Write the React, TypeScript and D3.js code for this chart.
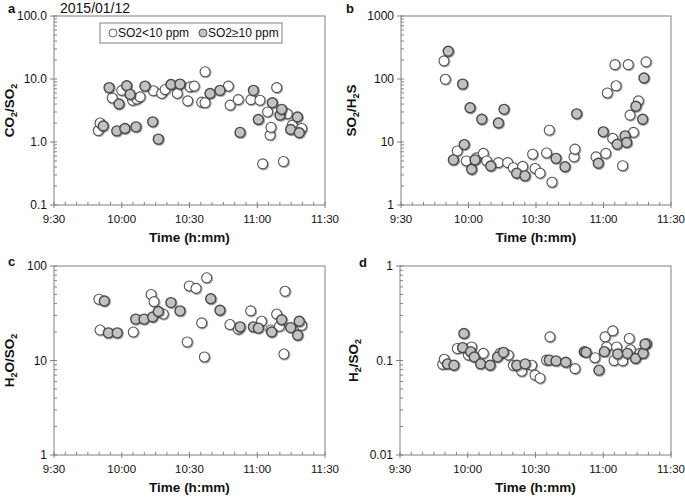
import React, { useRef, useEffect } from 'react';
import * as d3 from 'd3';

// times are minutes after 9:30
const aOpenT = [19.6, 20.4, 25.8, 30, 34.8, 36.7, 38.1, 44, 47.7, 49.2, 54.6, 59.2, 60.2, 62.1, 65.4, 66.9, 66.9, 77.2, 78, 81.6, 87.2, 91.2, 92.4, 94.6, 95.7, 96.1, 98.6, 101.6, 103.3, 105.5, 109.7];
const aOpenV = [1.52, 2.0, 5.0, 6.6, 4.6, 4.8, 5.2, 6.5, 5.9, 6.8, 5.9, 4.5, 7.5, 7.7, 4.3, 4.2, 13, 7.7, 3.85, 4.7, 4.7, 4.6, 0.45, 3.0, 1.29, 1.71, 7.3, 0.49, 2.8, 1.85, 1.64];
const aFillT = [21.8, 24.4, 27.8, 28.8, 31.4, 32.2, 33.7, 36.3, 40.3, 43.7, 46.2, 51.8, 55.8, 69.1, 73.5, 82.4, 88.3, 90.5, 96.7, 100.1, 100.8, 104.8, 107.8, 108.6];
const aFillV = [1.79, 7.3, 1.5, 4.0, 1.64, 7.8, 5.7, 1.74, 7.7, 2.09, 1.11, 8.2, 8.3, 5.9, 6.6, 1.42, 6.6, 2.28, 4.2, 2.67, 3.3, 1.58, 2.5, 1.4];

const bOpenT = [19.1, 19.7, 25, 29, 33.5, 36.6, 38.1, 43.3, 47.4, 49.9, 54.1, 58.5, 59.6, 61.8, 64.7, 65.9, 67.1, 76.9, 77.3, 86.7, 91, 91.7, 94.1, 95.1, 95.6, 98.5, 101, 101.8, 103.3, 105.5, 108.9];
const bOpenV = [194, 99, 7.2, 5.0, 5.6, 6.6, 5.0, 4.7, 4.7, 3.9, 4.1, 6.4, 3.8, 3.2, 6.7, 15.4, 2.3, 5.8, 7.7, 5.8, 6.6, 60, 11.4, 169, 78, 4.2, 169, 26.7, 14.2, 45, 187];
const bFillT = [21, 23.3, 27.4, 28.1, 30.7, 31.4, 32.9, 35.9, 39.9, 43.3, 45.8, 51.4, 55.1, 68.9, 72.9, 78.1, 87.7, 89.9, 96.1, 99.6, 100.3, 104.4, 107.4, 108];
const bFillV = [275, 5.2, 83, 9.1, 35, 3.7, 5.2, 23, 4.15, 20, 33, 3.2, 2.9, 5.5, 4.05, 28, 4.6, 14.5, 9.2, 12.5, 9.8, 37, 23, 104];

const cOpenT = [19.9, 20.4, 35.1, 43, 44.3, 48.4, 59, 59.9, 62.9, 65.4, 66.6, 67.6, 77.9, 81.6, 87.1, 91.9, 96, 98.6, 99.8, 101.8, 102.3, 109.7];
const cOpenV = [44.5, 21, 20, 50, 42, 31, 15.7, 61.5, 58, 25, 10.9, 75, 24, 21.5, 33.5, 26, 21, 31, 23, 11.7, 54, 23.6];
const cFillT = [22.3, 24.1, 28, 36.2, 39.9, 43.7, 46.2, 51.8, 55.8, 69.4, 73.5, 82.4, 88.3, 90.5, 96.4, 100.8, 104.8, 107.9, 108.6];
const cFillV = [42.6, 19.6, 19.6, 27.4, 27.4, 28.9, 33, 41, 33.5, 45, 34, 22.7, 22.7, 22, 20, 27, 22.3, 18.5, 26];

const dOpenT = [18.9, 19.6, 25.4, 30.3, 31.7, 36.9, 44.3, 48, 50.2, 53.9, 58.3, 59.8, 62, 64.9, 66.4, 77.5, 86.3, 90.8, 91.5, 94.2, 94.8, 95.9, 98.6, 101.5, 102, 106.3, 109.2];
const dOpenV = [0.091, 0.103, 0.134, 0.114, 0.139, 0.119, 0.119, 0.114, 0.089, 0.077, 0.089, 0.07, 0.065, 0.101, 0.178, 0.082, 0.107, 0.178, 0.139, 0.206, 0.1, 0.139, 0.099, 0.171, 0.13, 0.119, 0.151];
const dFillT = [21, 23.9, 27.7, 28.3, 31.3, 32.9, 35.7, 39.9, 43.2, 45.8, 51.7, 55.4, 66.1, 69.1, 73.4, 81.6, 82.4, 88.1, 90.5, 96.4, 100.7, 104.3, 107.7, 108.5];
const dFillV = [0.092, 0.089, 0.137, 0.193, 0.124, 0.109, 0.092, 0.089, 0.109, 0.122, 0.089, 0.092, 0.101, 0.099, 0.096, 0.124, 0.122, 0.079, 0.124, 0.117, 0.119, 0.105, 0.119, 0.149];

const xTicks = [0, 30, 60, 90, 120];
const aTicks = [0.1, 1, 10, 100];
const aTickLabels = ['0.1', '1.0', '10.0', '100.0'];
const bTicks = [1, 10, 100, 1000];
const bTickLabels = ['1', '10', '100', '1000'];
const cTicks = [1, 10, 100];
const cTickLabels = ['1', '10', '100'];
const dTicks = [0.01, 0.1, 1];
const dTickLabels = ['0.01', '0.1', '1'];

const legendLabels = ['SO2<10 ppm', 'SO2≥10 ppm'];

const fmtTime = (m: number) => {
  const total = 9 * 60 + 30 + m;
  return `${Math.floor(total / 60)}:${String(total % 60).padStart(2, '0')}`;
};

const zip = (t: number[], v: number[]) => t.map((d, i) => ({ t: d, v: v[i] }));

const panels = [
  { letter: 'a', lx: 8, ly: 13, x0: 54, x1: 325, y0: 16, y1: 205, ticks: aTicks, labels: aTickLabels, tx: 14,
    title: [['CO', 0], ['2', 1], ['/SO', 0], ['2', 1]], open: zip(aOpenT, aOpenV), fill: zip(aFillT, aFillV) },
  { letter: 'b', lx: 346, ly: 13, x0: 401, x1: 671, y0: 16, y1: 205, ticks: bTicks, labels: bTickLabels, tx: 356,
    title: [['SO', 0], ['2', 1], ['/H', 0], ['2', 1], ['S', 0]], open: zip(bOpenT, bOpenV), fill: zip(bFillT, bFillV) },
  { letter: 'c', lx: 8, ly: 266, x0: 54, x1: 325, y0: 266, y1: 455, ticks: cTicks, labels: cTickLabels, tx: 14,
    title: [['H', 0], ['2', 1], ['O/SO', 0], ['2', 1]], open: zip(cOpenT, cOpenV), fill: zip(cFillT, cFillV) },
  { letter: 'd', lx: 359, ly: 267, x0: 400, x1: 671, y0: 266, y1: 455, ticks: dTicks, labels: dTickLabels, tx: 358,
    title: [['H', 0], ['2', 1], ['/SO', 0], ['2', 1]], open: zip(dOpenT, dOpenV), fill: zip(dFillT, dFillV) },
];

const App: React.FC = () => {
  const svgRef = useRef<SVGSVGElement | null>(null);

  useEffect(() => {
    const svg = d3.select(svgRef.current);
    svg.selectAll('*').remove();
    const width = 685;
    const height = 498;
    const font = 'Liberation Sans, Arial, sans-serif';
    const axisColor = '#808080';

    svg.attr('width', width).attr('height', height).style('background', '#fff');

    const defs = svg.append('defs');
    const f = defs.append('filter').attr('id', 'shadow').attr('x', '-50%').attr('y', '-50%').attr('width', '200%').attr('height', '200%');
    f.append('feDropShadow').attr('dx', 0.8).attr('dy', 0.8).attr('stdDeviation', 0.7)
      .attr('flood-color', '#000').attr('flood-opacity', 0.45);

    panels.forEach(p => {
      const x = d3.scaleLinear().domain([0, 120]).range([p.x0, p.x1]);
      const y = d3.scaleLog().domain([p.ticks[0], p.ticks[p.ticks.length - 1]]).range([p.y1, p.y0]);
      const g = svg.append('g');

      // frame
      g.append('rect')
        .attr('x', p.x0).attr('y', p.y0)
        .attr('width', p.x1 - p.x0).attr('height', p.y1 - p.y0)
        .attr('fill', 'none').attr('stroke', axisColor).attr('stroke-width', 1);

      // x ticks
      d3.range(0, 121, 5).forEach(m => {
        const major = m % 30 === 0;
        g.append('line')
          .attr('x1', x(m)).attr('x2', x(m))
          .attr('y1', p.y1 + (major ? 3 : 0)).attr('y2', p.y1 - 3)
          .attr('stroke', axisColor);
      });
      g.selectAll('.xl').data(xTicks).enter().append('text')
        .attr('x', d => x(d)).attr('y', p.y1 + 18)
        .attr('text-anchor', 'middle')
        .style('font-family', font).style('font-size', '11.5px').style('fill', '#111')
        .text(d => fmtTime(d));

      g.append('text')
        .attr('x', (p.x0 + p.x1) / 2).attr('y', p.y1 + 37)
        .attr('text-anchor', 'middle')
        .style('font-family', font).style('font-size', '13.5px').style('font-weight', 'bold').style('fill', '#111')
        .text('Time (h:mm)');

      // y ticks (log minor)
      p.ticks.forEach((t, i) => {
        g.append('line')
          .attr('x1', p.x0 - 4).attr('x2', p.x0 + 3)
          .attr('y1', y(t)).attr('y2', y(t))
          .attr('stroke', axisColor);
        if (i < p.ticks.length - 1) {
          d3.range(2, 10).forEach(k => {
            g.append('line')
              .attr('x1', p.x0).attr('x2', p.x0 + 3)
              .attr('y1', y(t * k)).attr('y2', y(t * k))
              .attr('stroke', axisColor);
          });
        }
      });
      g.selectAll('.yl').data(p.ticks).enter().append('text')
        .attr('x', p.x0 - 7).attr('y', d => y(d)).attr('dy', '0.35em')
        .attr('text-anchor', 'end')
        .style('font-family', font).style('font-size', '12px').style('fill', '#111')
        .text((d, i) => p.labels[i]);

      // y title with subscripts
      const yt = g.append('text')
        .attr('transform', `translate(${p.tx},${(p.y0 + p.y1) / 2}) rotate(-90)`)
        .attr('text-anchor', 'middle')
        .style('font-family', font).style('font-size', '13.5px').style('font-weight', 'bold').style('fill', '#111');
      let shifted = false;
      p.title.forEach(([s, sub]) => {
        const ts = yt.append('tspan').text(s as string);
        if (sub) {
          ts.attr('dy', 3).style('font-size', '9px');
          shifted = true;
        } else if (shifted) {
          ts.attr('dy', -3);
          shifted = false;
        }
      });

      // panel letter
      g.append('text')
        .attr('x', p.lx).attr('y', p.ly)
        .style('font-family', font).style('font-size', '13px').style('font-weight', 'bold').style('fill', '#111')
        .text(p.letter);

      // points
      g.selectAll('.op').data(p.open).enter().append('circle')
        .attr('cx', d => x(d.t)).attr('cy', d => y(d.v)).attr('r', 5)
        .attr('fill', '#fff').attr('stroke', '#555').attr('stroke-width', 1.1)
        .attr('filter', 'url(#shadow)');
      g.selectAll('.fp').data(p.fill).enter().append('circle')
        .attr('cx', d => x(d.t)).attr('cy', d => y(d.v)).attr('r', 5)
        .attr('fill', '#c2c2c2').attr('stroke', '#4a4a4a').attr('stroke-width', 1.4)
        .attr('filter', 'url(#shadow)');
    });

    // date header
    svg.append('text')
      .attr('x', 60).attr('y', 13)
      .style('font-family', font).style('font-size', '14px').style('fill', '#111')
      .text('2015/01/12');

    // legend
    const legend = svg.append('g').attr('transform', 'translate(100,23)');
    legend.append('rect')
      .attr('width', 182).attr('height', 20)
      .attr('fill', '#fff').attr('stroke', axisColor);
    legendLabels.forEach((label, i) => {
      const lx = i === 0 ? 13 : 103;
      legend.append('circle')
        .attr('cx', lx).attr('cy', 10).attr('r', 4)
        .attr('fill', i === 0 ? '#fff' : '#c2c2c2')
        .attr('stroke', i === 0 ? '#666' : '#555').attr('stroke-width', 1);
      legend.append('text')
        .attr('x', lx + 5).attr('y', 10).attr('dy', '0.35em')
        .style('font-family', font).style('font-size', '12px').style('fill', '#111')
        .text(label);
    });
  }, []);

  return <svg ref={svgRef} style={{ position: 'absolute', left: 0, top: 0 }}></svg>;
};

export default App;
